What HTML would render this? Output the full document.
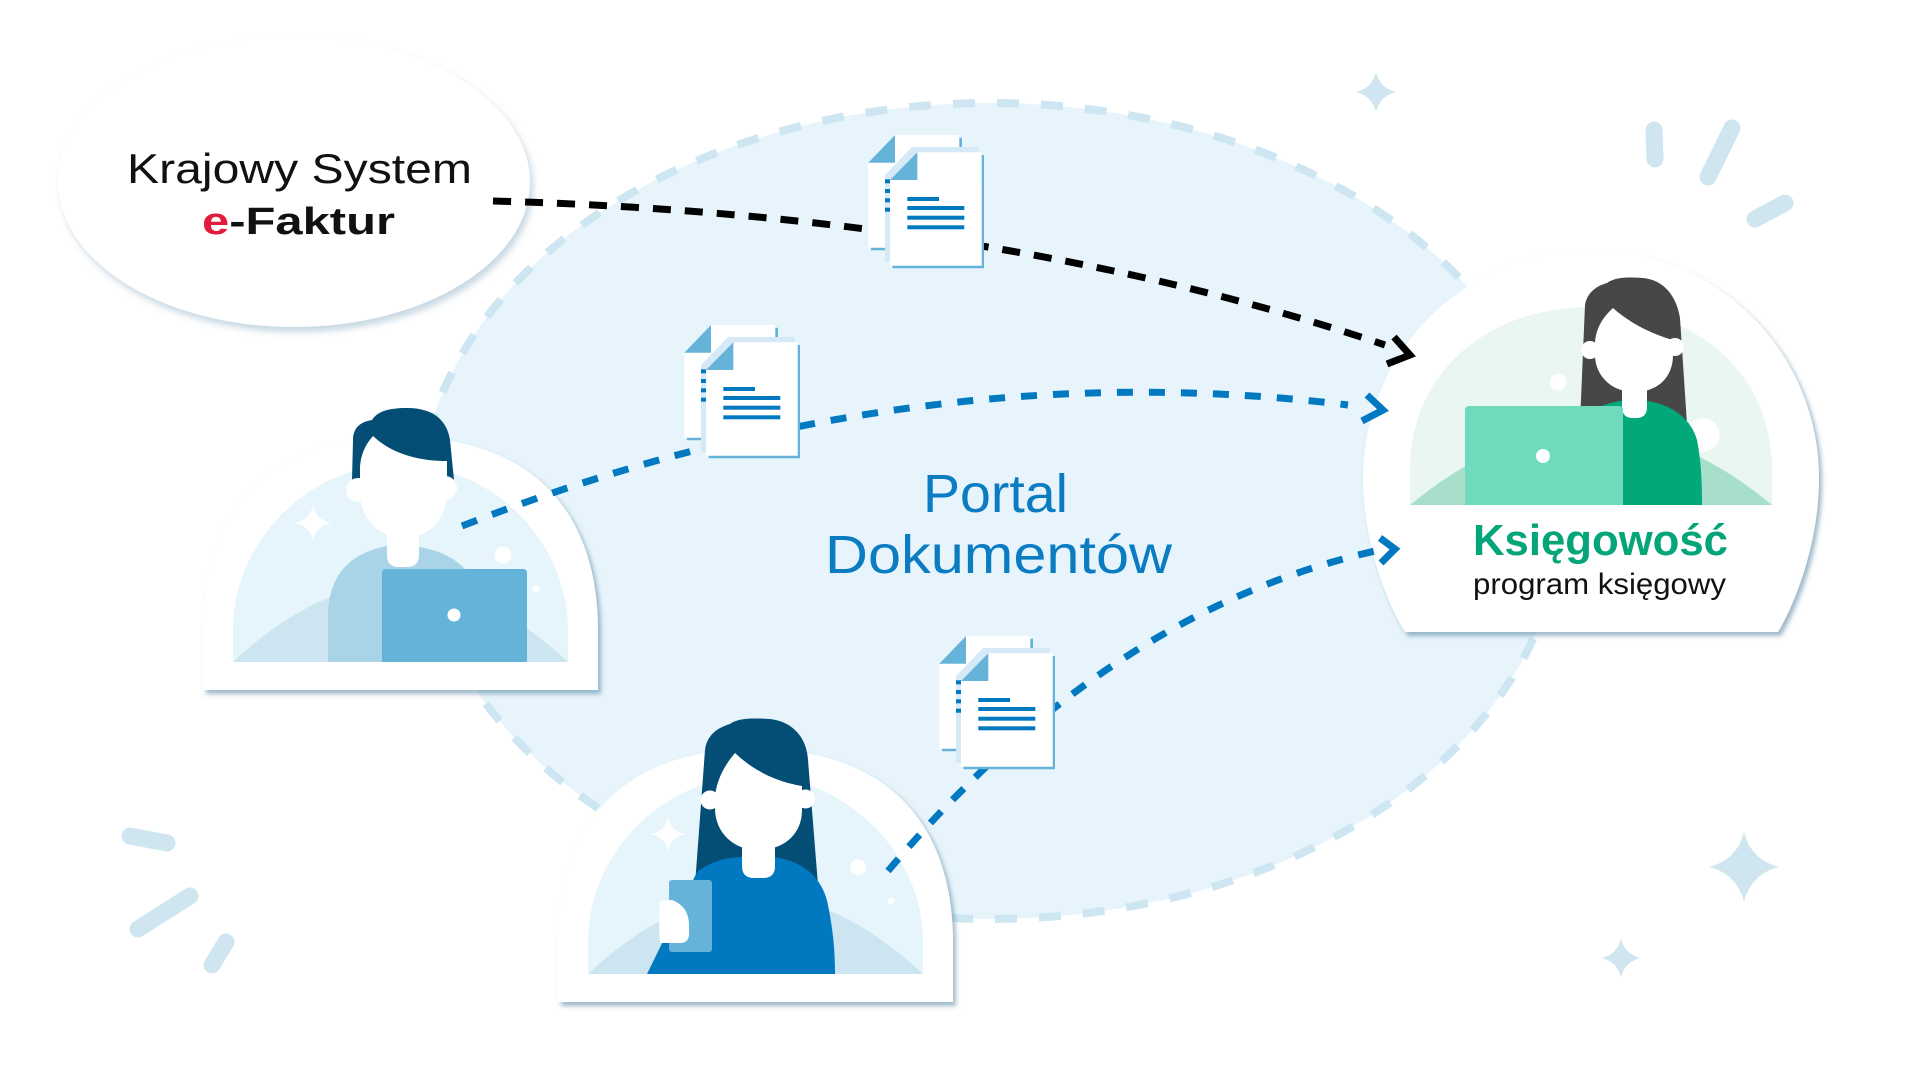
<!DOCTYPE html>
<html><head><meta charset="utf-8"><style>
html,body{margin:0;padding:0;background:#fff;}
svg{display:block;}
</style></head><body>
<svg width="1920" height="1080" viewBox="0 0 1920 1080" xmlns="http://www.w3.org/2000/svg">
<defs>
<filter id="sh" x="-10%" y="-10%" width="125%" height="125%"><feDropShadow dx="3" dy="4" stdDeviation="2.5" flood-color="#4f7f9f" flood-opacity="0.55"/></filter>
<filter id="sh2" x="-10%" y="-10%" width="125%" height="130%"><feDropShadow dx="3" dy="5" stdDeviation="3.5" flood-color="#5f8fae" flood-opacity="0.35"/></filter>
<g id="doc">
<path d="M897.7,137.7 H962 V250.3 H871 V165.4 Z" fill="#66b3da"/>
<path d="M895,135 H959.3 V247.7 H868.3 V162.7 Z" fill="#fff"/>
<path d="M868.3,162.7 L895,135 L895,162.7 Z" fill="#66b3da"/>
<path d="M912,147 H979 V262 H885 V175 Z" fill="#d5eaf6"/>
<rect x="885" y="179.3" width="5" height="4" fill="#0079c1"/>
<rect x="885" y="189" width="5" height="4" fill="#0079c1"/>
<rect x="885" y="198.3" width="5" height="4" fill="#0079c1"/>
<rect x="885" y="207.7" width="5" height="4" fill="#0079c1"/>
<path d="M920,155 H984 V268.3 H892.5 V182.7 Z" fill="#66b3da"/>
<path d="M917.3,152.3 H981.7 V265.7 H890 V180 Z" fill="#fff"/>
<path d="M890,180 L917.3,152.3 L917.3,180 Z" fill="#66b3da"/>
<rect x="907.3" y="197" width="31.7" height="4" fill="#0079c1"/>
<rect x="907.3" y="206" width="57" height="4" fill="#0079c1"/>
<rect x="907.3" y="215.7" width="57" height="4" fill="#0079c1"/>
<rect x="907.3" y="225.3" width="57" height="4" fill="#0079c1"/>
</g>
</defs>

<!-- Portal ellipse -->
<ellipse cx="990" cy="511" rx="572" ry="408" fill="#e7f4fb" stroke="#cde6f1" stroke-width="8" stroke-dasharray="22 22"/>

<!-- decorative bars -->
<g stroke="#cfe6f1" stroke-width="17" stroke-linecap="round" fill="none">
<line x1="1654" y1="130" x2="1655" y2="159"/>
<line x1="1732" y1="128" x2="1708" y2="177"/>
<line x1="1785" y1="203" x2="1755" y2="219"/>
<line x1="130" y1="836" x2="167" y2="843"/>
<line x1="190" y1="896" x2="138" y2="929"/>
<line x1="226" y1="942" x2="212" y2="965"/>
</g>
<!-- stars -->
<g fill="#cfe6f1">
<path d="M1376,72 Q1380,88 1396,92 Q1380,96 1376,112 Q1372,96 1356,92 Q1372,88 1376,72 Z"/>
<path d="M1744,832 Q1751,860 1779,867 Q1751,874 1744,902 Q1737,874 1709,867 Q1737,860 1744,832 Z"/>
<path d="M1621,939 Q1625,954 1640,958 Q1625,962 1621,977 Q1617,962 1602,958 Q1617,954 1621,939 Z"/>
</g>

<!-- KSeF ellipse -->
<ellipse cx="294" cy="182" rx="236" ry="145" fill="#fff" filter="url(#sh2)"/>
<text x="127" y="183" font-family="Liberation Sans, sans-serif" font-size="42" fill="#111" textLength="345" lengthAdjust="spacingAndGlyphs">Krajowy System</text>
<text x="202" y="234" font-family="Liberation Sans, sans-serif" font-size="38" font-weight="bold" fill="#111" textLength="193" lengthAdjust="spacingAndGlyphs"><tspan fill="#e31b3b">e</tspan>-Faktur</text>

<!-- Man badge -->
<g>
<path d="M203,690 L203,630 C203,525 255,437 400,437 C545,437 598,525 598,630 L598,690 Z" fill="#fff" filter="url(#sh)"/>
<path d="M233,662 L233,630 C233,540 310,464 400,464 C490,464 568,540 568,630 L568,662 Z" fill="#e6f5fc"/>
<path d="M233,662 Q400,505 568,662 Z" fill="#cde5f0"/>
<path d="M313,505 Q316,520 331,523 Q316,526 313,541 Q310,526 295,523 Q310,520 313,505 Z" fill="#fff"/>
<circle cx="503" cy="555" r="8.5" fill="#fff"/>
<circle cx="536" cy="589" r="3.5" fill="#fff"/>
<path d="M352,480 L353,440 C353,428 360,422 372,420 C378,410 392,408 407,408 C433,408 447,420 450,440 L454,480 Z" fill="#044d74"/>
<path d="M328,662 L328,617 C328,580 345,552 393,545 C430,545 455,555 470,575 L470,662 Z" fill="#a9d3e6"/>
<path d="M360,490 L360,470 C360,456 365,445 373,436 C390,452 415,461 447,461 L447,492 C447,520 428,538 404,538 C380,538 360,520 360,492 Z" fill="#fff"/>
<circle cx="358" cy="490" r="12" fill="#fff"/>
<circle cx="445" cy="488" r="12" fill="#fff"/>
<path d="M387,530 H419 V555 Q419,567 407,567 H399 Q387,567 387,555 Z" fill="#fff"/>
<path d="M382,662 V573 Q382,569 386,569 H523 Q527,569 527,573 V662 Z" fill="#66b3da"/>
<circle cx="454" cy="615" r="6.5" fill="#fff"/>
</g>

<!-- Woman badge -->
<g>
<path d="M558,1002 L558,942 C558,837 610,749 755,749 C900,749 953,837 953,942 L953,1002 Z" fill="#fff" filter="url(#sh)"/>
<path d="M588,974 L588,942 C588,852 665,776 755,776 C845,776 923,852 923,942 L923,974 Z" fill="#e6f5fc"/>
<path d="M588,974 Q755,817 923,974 Z" fill="#cde5f0"/>
<path d="M668,817 Q671,831 685,834 Q671,837 668,851 Q665,837 651,834 Q665,831 668,817 Z" fill="#fff"/>
<circle cx="858" cy="867" r="8" fill="#fff"/>
<circle cx="891" cy="901" r="3.5" fill="#fff"/>
<path d="M695,885 L705,750 C707,735 717,728 730,724 C738,718 752,718 770,719 C795,722 807,740 808,760 L818,885 Z" fill="#044d74"/>
<path d="M647,974 L697,872 C710,862 725,857 745,857 L773,857 C800,860 822,875 828,905 C833,930 835,950 835,974 Z" fill="#0079c1"/>
<path d="M715,800 C715,785 722,768 735,753 C755,772 778,782 802,786 L802,810 C802,835 783,850 758,850 C733,850 715,832 715,808 Z" fill="#fff"/>
<circle cx="710" cy="800" r="9.5" fill="#fff"/>
<circle cx="805.5" cy="799" r="9.5" fill="#fff"/>
<path d="M742,840 H775 V866 Q775,878 763,878 H754 Q742,878 742,866 Z" fill="#fff"/>
<rect x="669" y="880" width="43" height="72" rx="3" fill="#66b3da"/>
<path d="M660,901 L672,900 C685,905 690,915 689,930 C690,940 686,943 680,943 L660,943 C659,930 659,910 660,901 Z" fill="#fff"/>
</g>

<!-- Accountant badge -->
<g>
<path d="M1405,632 C1385,600 1363,540 1363,478 A228,228 0 0 1 1819,478 C1819,540 1797,600 1778,632 Z" fill="#fff" filter="url(#sh)"/>
<path d="M1410,505 L1410,470 C1410,370 1490,307 1591,307 C1692,307 1772,370 1772,470 L1772,505 Z" fill="#eaf6f1"/>
<path d="M1410,505 Q1591,355 1772,505 Z" fill="#a8dfcb"/>
<circle cx="1558" cy="382" r="8.3" fill="#fff"/>
<circle cx="1703" cy="435" r="16.7" fill="#fff"/>
<path d="M1578,470 L1585,305 C1587,293 1596,286 1607,283 C1615,277 1628,277 1643,278 C1665,280 1677,298 1680,318 L1690,470 Z" fill="#474747"/>
<path d="M1580,505 L1585,415 C1600,405 1615,400 1634,400 C1665,400 1690,415 1697,440 C1701,460 1702,480 1702,505 Z" fill="#02a87a"/>
<path d="M1595,345 C1595,330 1602,318 1613,308 C1632,325 1655,335 1673,340 L1673,355 C1673,378 1657,392 1634,392 C1611,392 1595,375 1595,355 Z" fill="#fff"/>
<circle cx="1590" cy="350" r="9" fill="#fff"/>
<circle cx="1675" cy="347" r="9" fill="#fff"/>
<path d="M1622,385 H1647 V407 Q1647,418 1636,418 H1633 Q1622,418 1622,407 Z" fill="#fff"/>
<path d="M1465,505 V410 Q1465,406 1469,406 H1619 Q1623,406 1623,410 V505 Z" fill="#70dabd"/>
<circle cx="1543" cy="456" r="7" fill="#fff"/>
<text x="1473" y="555" font-family="Liberation Sans, sans-serif" font-size="44" font-weight="bold" fill="#05a57a" textLength="255" lengthAdjust="spacingAndGlyphs">Księgowość</text>
<text x="1473" y="594" font-family="Liberation Sans, sans-serif" font-size="30" fill="#111" textLength="253" lengthAdjust="spacingAndGlyphs">program księgowy</text>
</g>

<!-- connectors -->
<path d="M493,201 Q1000,215 1385,345" fill="none" stroke="#000" stroke-width="7" stroke-dasharray="18 14"/>
<polyline points="1394,337 1410,355 1387,364" fill="none" stroke="#000" stroke-width="7" stroke-linejoin="miter"/>
<path d="M462,526 Q910,351 1348,405" fill="none" stroke="#0079c1" stroke-width="7" stroke-dasharray="16 16"/>
<polyline points="1367,395 1383,410 1362,421" fill="none" stroke="#0079c1" stroke-width="7" stroke-linejoin="miter"/>
<path d="M888,871 Q1106,612 1375,551" fill="none" stroke="#0079c1" stroke-width="7" stroke-dasharray="16 16"/>
<polyline points="1380,538 1395,549 1381,563" fill="none" stroke="#0079c1" stroke-width="7" stroke-linejoin="miter"/>

<!-- documents -->
<use href="#doc"/>
<use href="#doc" transform="translate(-184,190)"/>
<use href="#doc" transform="translate(71,501)"/>

<!-- Portal text -->
<text x="923" y="512" font-family="Liberation Sans, sans-serif" font-size="54" fill="#0b7bc2" textLength="145" lengthAdjust="spacingAndGlyphs">Portal</text>
<text x="825" y="573" font-family="Liberation Sans, sans-serif" font-size="54" fill="#0b7bc2" textLength="347" lengthAdjust="spacingAndGlyphs">Dokumentów</text>
</svg>
</body></html>
